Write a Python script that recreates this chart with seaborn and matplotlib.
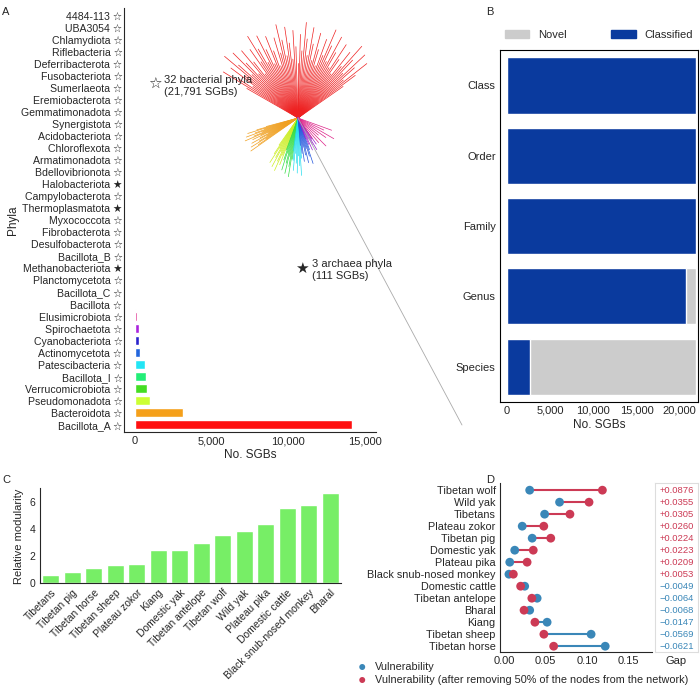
import numpy as np
import pandas as pd
import seaborn as sns
import matplotlib.pyplot as plt
from matplotlib.patches import Patch

sns.set_style('white')
plt.rcParams['font.family'] = ['Liberation Sans', 'DejaVu Sans']

# panel A
phyla = ['4484-113', 'UBA3054', 'Chlamydiota', 'Riflebacteria', 'Deferribacterota', 'Fusobacteriota',
         'Sumerlaeota', 'Eremiobacterota', 'Gemmatimonadota', 'Synergistota', 'Acidobacteriota',
         'Chloroflexota', 'Armatimonadota', 'Bdellovibrionota', 'Halobacteriota', 'Campylobacterota',
         'Thermoplasmatota', 'Myxococcota', 'Fibrobacterota', 'Desulfobacterota', 'Bacillota_B',
         'Methanobacteriota', 'Planctomycetota', 'Bacillota_C', 'Bacillota', 'Elusimicrobiota',
         'Spirochaetota', 'Cyanobacteriota', 'Actinomycetota', 'Patescibacteria', 'Bacillota_I',
         'Verrucomicrobiota', 'Pseudomonadota', 'Bacteroidota', 'Bacillota_A']
sgbs = [1, 1, 1, 2, 2, 2, 3, 3, 3, 4, 4, 5, 5, 6, 8, 10, 12, 14, 16, 20, 25,
        90, 40, 50, 60, 150, 280, 300, 350, 700, 750, 800, 1000, 3150, 14150]
archaea = ['Halobacteriota', 'Thermoplasmatota', 'Methanobacteriota']
bar_colors = {'Elusimicrobiota': '#dd2288', 'Spirochaetota': '#aa22dd', 'Cyanobacteriota': '#2a22cc',
              'Actinomycetota': '#2266dd', 'Patescibacteria': '#22e5f5', 'Bacillota_I': '#22ee77',
              'Verrucomicrobiota': '#44dd22', 'Pseudomonadota': '#ccff33', 'Bacteroidota': '#f5a01a',
              'Bacillota_A': '#ff1010'}

# tree clades (angle range in degrees, colour, branch count, branch length in px)
clades = [(35, 150, '#ee2020', 70, 100), (195, 215, '#f0a020', 20, 60), (235, 250, '#ccee22', 12, 60),
          (250, 262, '#33dd44', 10, 62), (262, 275, '#22ddee', 10, 60), (275, 290, '#2255dd', 10, 50),
          (290, 305, '#9922cc', 8, 40), (305, 340, '#dd2288', 8, 45)]

# panel B
ranks = ['Class', 'Order', 'Family', 'Genus', 'Species']
classified = [21902, 21902, 21902, 20700, 2700]
novel = [0, 0, 0, 1202, 19202]

# panel C
hosts_c = ['Tibetans', 'Tibetan pig', 'Tibetan horse', 'Tibetan sheep', 'Plateau zokor', 'Kiang',
           'Domestic yak', 'Tibetan antelope', 'Tibetan wolf', 'Wild yak', 'Plateau pika',
           'Domestic cattle', 'Black snub-nosed monkey', 'Bharal']
modularity = [0.6, 0.85, 1.15, 1.35, 1.45, 2.45, 2.5, 2.95, 3.6, 3.9, 4.4, 5.55, 5.75, 6.65]

# panel D
hosts_d = ['Tibetan wolf', 'Wild yak', 'Tibetans', 'Plateau zokor', 'Tibetan pig', 'Domestic yak',
           'Plateau pika', 'Black snub-nosed monkey', 'Domestic cattle', 'Tibetan antelope', 'Bharal',
           'Kiang', 'Tibetan sheep', 'Tibetan horse']
vuln = [0.031, 0.067, 0.049, 0.022, 0.034, 0.013, 0.007, 0.006, 0.025, 0.040, 0.031, 0.052, 0.105, 0.122]
vuln_rm = [0.1186, 0.1025, 0.0795, 0.048, 0.0564, 0.0353, 0.0279, 0.0113, 0.0201, 0.0336, 0.0242,
           0.0373, 0.0481, 0.0599]
gaps = ['+0.0876', '+0.0355', '+0.0305', '+0.0260', '+0.0224', '+0.0223', '+0.0209', '+0.0053',
        '\u22120.0049', '\u22120.0064', '\u22120.0068', '\u22120.0147', '\u22120.0569', '\u22120.0621']

blue = '#3a87b8'
red = '#cc3a55'

fig = plt.figure(figsize=(7, 6.88), dpi=100)

# ---- A
axA = fig.add_axes([0.177, 0.372, 0.36, 0.616])
dfA = pd.DataFrame({'phylum': phyla, 'n': sgbs})
pal = {p: bar_colors.get(p, '#bbbbbb') for p in phyla}
sns.barplot(data=dfA, y='phylum', x='n', hue='phylum', palette=pal, legend=False,
            width=0.75, saturation=1, ax=axA)
axA.set_yticks(range(len(phyla)))
axA.set_yticklabels([p + (' \u2605' if p in archaea else ' \u2606') for p in phyla])
axA.tick_params(axis='y', labelsize=7.6, length=0, pad=1)
axA.tick_params(axis='x', labelsize=8, length=2, pad=1)
axA.set_xlim(-700, 15700)
axA.set_xticks([0, 5000, 10000, 15000])
axA.set_xticklabels(['0', '5,000', '10,000', '15,000'])
axA.set_xlabel('No. SGBs', fontsize=8.5, labelpad=2)
axA.set_ylabel('Phyla', fontsize=8.5, labelpad=1)
axA.set_ylim(len(phyla) - 0.4, -0.6)
for s in ['top', 'right']:
    axA.spines[s].set_visible(False)

# tree overlay in pixel coordinates
ov = fig.add_axes([0, 0, 1, 1], zorder=5)
ov.set_xlim(0, 700)
ov.set_ylim(688, 0)
ov.axis('off')
rx, ry = 298, 118
for a0, a1, c, k, L in clades:
    for j, ang in enumerate(np.linspace(a0, a1, k)):
        t = np.deg2rad(ang)
        ln = L * (0.55 + 0.45 * ((j * 37) % 11) / 11)
        mx, my = rx + 0.3 * ln * np.cos(t), ry - 0.3 * ln * np.sin(t)
        ov.plot([rx, mx, rx + ln * np.cos(t)], [ry, my, ry - ln * np.sin(t)], color=c, lw=0.5)
ov.plot([rx, 462], [ry, 425], color='#aaaaaa', lw=0.6)
ov.text(155, 84, '\u2606', fontsize=11, va='center', ha='center', family='DejaVu Sans')
ov.text(164, 86, '32 bacterial phyla\n(21,791 SGBs)', fontsize=8, va='center', ha='left')
ov.text(302, 268, '\u2605', fontsize=11, va='center', ha='center', family='DejaVu Sans')
ov.text(312, 270, '3 archaea phyla\n(111 SGBs)', fontsize=8, va='center', ha='left')

# ---- B
axB = fig.add_axes([0.714, 0.416, 0.283, 0.511])
dfB = pd.DataFrame({'rank': ranks, 'total': np.array(classified) + np.array(novel), 'cl': classified})
sns.barplot(data=dfB, y='rank', x='total', color='#cccccc', width=0.8, saturation=1, ax=axB)
sns.barplot(data=dfB, y='rank', x='cl', color='#0a3a9e', width=0.8, saturation=1, ax=axB)
axB.set_xlim(-800, 22100)
axB.set_xticks([0, 5000, 10000, 15000, 20000])
axB.set_xticklabels(['0', '5,000', '10,000', '15,000', '20,000'], fontsize=8)
axB.set_xlabel('No. SGBs', fontsize=8.5, labelpad=2)
axB.set_ylabel('')
axB.tick_params(labelsize=8, length=2, pad=1)
for s in axB.spines.values():
    s.set_color('black')
axB.legend(handles=[Patch(color='#cccccc', label='Novel'), Patch(color='#0a3a9e', label='Classified')],
           loc='lower center', bbox_to_anchor=(0.5, 1.0), ncol=2, frameon=False, fontsize=8,
           columnspacing=4, handlelength=2.2)

# ---- C
axC = fig.add_axes([0.057, 0.152, 0.43, 0.138])
dfC = pd.DataFrame({'host': hosts_c, 'mod': modularity})
sns.barplot(data=dfC, x='host', y='mod', color='#77ee66', width=0.8, saturation=1, ax=axC)
axC.set_xticks(range(len(hosts_c)))
axC.set_xticklabels(hosts_c, rotation=45, ha='right', rotation_mode='anchor', fontsize=7)
axC.set_yticks([0, 2, 4, 6])
axC.set_ylim(0, 7)
axC.set_xlabel('')
axC.set_ylabel('Relative modularity', fontsize=8)
axC.tick_params(labelsize=7.5, length=2, pad=1)
sns.despine(ax=axC)

# ---- D
axD = fig.add_axes([0.714, 0.052, 0.217, 0.246])
y = np.arange(len(hosts_d))
for i in range(len(hosts_d)):
    axD.plot([vuln[i], vuln_rm[i]], [i, i], color=red if vuln_rm[i] > vuln[i] else blue, lw=1.5, zorder=1)
sns.scatterplot(x=vuln, y=y, color=blue, s=40, edgecolor='none', ax=axD, zorder=2)
sns.scatterplot(x=vuln_rm, y=y, color=red, s=40, edgecolor='none', ax=axD, zorder=3)
axD.set_yticks(y)
axD.set_yticklabels(hosts_d, fontsize=7.8)
axD.set_ylim(len(hosts_d) - 0.5, -0.6)
axD.set_xlim(-0.005, 0.178)
axD.set_xticks([0, 0.05, 0.10, 0.15])
axD.set_xticklabels(['0.00', '0.05', '0.10', '0.15'], fontsize=8)
axD.tick_params(length=2, pad=1)
sns.despine(ax=axD)
axG = fig.add_axes([0.936, 0.052, 0.061, 0.246])
axG.set_ylim(len(hosts_d) - 0.5, -0.6)
axG.set_xlim(0, 1)
for i, g in enumerate(gaps):
    axG.text(0.5, i, g, ha='center', va='center', fontsize=6.8, color=red if g[0] == '+' else blue)
axG.set_xticks([])
axG.set_yticks([])
for s in axG.spines.values():
    s.set_color('#dddddd')
axG.set_xlabel('Gap', fontsize=8, labelpad=3)
fig.text(0.511, 0.030, '\u25cf', color=blue, fontsize=10, va='center')
fig.text(0.536, 0.030, 'Vulnerability', fontsize=7.8, va='center')
fig.text(0.511, 0.011, '\u25cf', color=red, fontsize=10, va='center')
fig.text(0.536, 0.011, 'Vulnerability (after removing 50% of the nodes from the network)', fontsize=7.8, va='center')

for lab, xx, yy in [('A', 0.003, 0.99), ('B', 0.695, 0.99), ('C', 0.003, 0.31), ('D', 0.695, 0.31)]:
    fig.text(xx, yy, lab, fontsize=8, va='top')

fig.savefig('out.png', dpi=100)
